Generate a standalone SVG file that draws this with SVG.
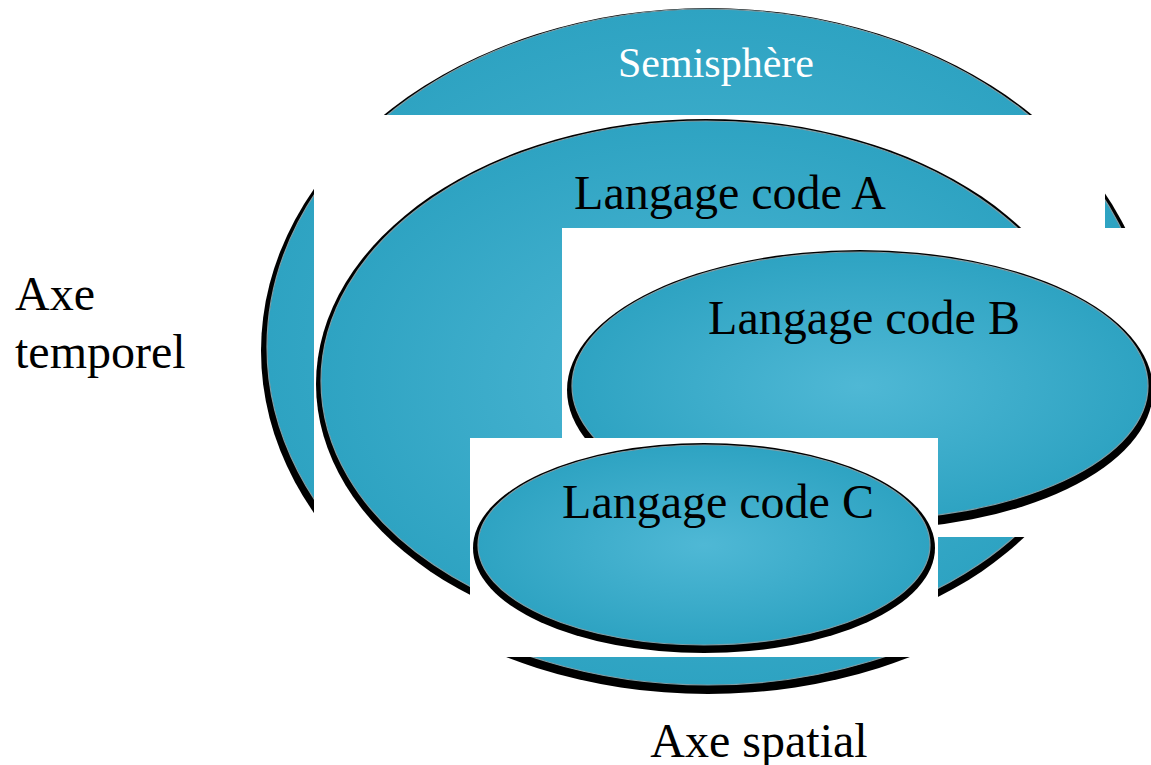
<svg xmlns="http://www.w3.org/2000/svg" width="1151" height="765" viewBox="0 0 1151 765">
<style>
.rim{fill:#000000;}
.body{fill:url(#tealGrad);stroke:#7f9da5;stroke-width:1.2;}
.mask{fill:#ffffff;}
.lbl{font-family:"Liberation Serif","Times New Roman",serif;font-size:48px;fill:#000000;text-anchor:middle;}
.lblw{font-family:"Liberation Serif","Times New Roman",serif;font-size:42px;fill:#ffffff;text-anchor:middle;}
.axis{font-family:"Liberation Serif","Times New Roman",serif;font-size:48px;fill:#000000;}
</style>
<defs>
<radialGradient id="tealGrad" cx="50%" cy="50%" r="50%">
<stop offset="0" stop-color="#4fb8d5"/>
<stop offset="1" stop-color="#2ea3c2"/>
</radialGradient>
<clipPath id="outerClip">
<rect x="0" y="0" width="1151" height="115"/>
<rect x="0" y="115" width="314" height="398"/>
<rect x="1105" y="115" width="46" height="113"/>
<rect x="0" y="657" width="1151" height="108"/>
</clipPath>
</defs>
<rect width="1151" height="765" fill="#ffffff"/>

<g id="semisphere">
<g clip-path="url(#outerClip)">
<ellipse class="rim" cx="708" cy="351" rx="447" ry="343"/>
<ellipse class="body" cx="708" cy="347" rx="441" ry="338"/>
</g>
<text class="lblw" x="716" y="77">Semisphère</text>
</g>

<g id="code-a">
<ellipse class="rim" cx="706" cy="384" rx="390" ry="265"/>
<ellipse class="body" cx="706" cy="381" rx="385" ry="260"/>
<text class="lbl" x="730" y="209">Langage code A</text>
</g>

<g id="code-b">
<rect class="mask" x="562" y="228" width="589" height="309"/>
<ellipse class="rim" cx="860" cy="390" rx="293" ry="140"/>
<ellipse class="body" cx="860" cy="386" rx="288" ry="134"/>
<text class="lbl" x="864" y="334">Langage code B</text>
</g>

<g id="code-c">
<rect class="mask" x="470" y="438" width="468" height="219"/>
<ellipse class="rim" cx="704" cy="548" rx="231" ry="105"/>
<ellipse class="body" cx="704" cy="545" rx="226" ry="100"/>
<text class="lbl" x="718" y="518">Langage code C</text>
</g>

<g id="axe-temporel">
<text class="axis" x="15" y="310">Axe</text>
<text class="axis" x="15" y="368">temporel</text>
</g>

<g id="axe-spatial">
<text class="axis" x="759" y="757" text-anchor="middle">Axe spatial</text>
</g>

<g id="connectors"></g>
</svg>
